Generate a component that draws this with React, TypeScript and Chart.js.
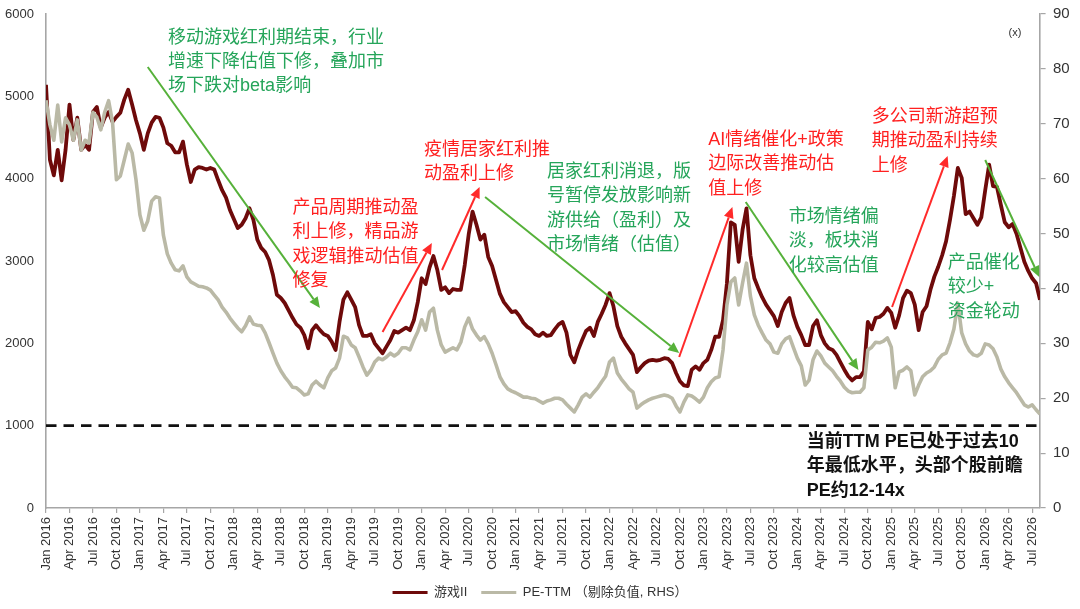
import React, { useEffect, useRef } from 'react';
import { Chart, registerables } from 'chart.js';

Chart.register(...registerables);

// ---------- data ----------
const TICK_LABELS = [
  'Jan 2016', 'Apr 2016', 'Jul 2016', 'Oct 2016',
  'Jan 2017', 'Apr 2017', 'Jul 2017', 'Oct 2017',
  'Jan 2018', 'Apr 2018', 'Jul 2018', 'Oct 2018',
  'Jan 2019', 'Apr 2019', 'Jul 2019', 'Oct 2019',
  'Jan 2020', 'Apr 2020', 'Jul 2020', 'Oct 2020',
  'Jan 2021', 'Apr 2021', 'Jul 2021', 'Oct 2021',
  'Jan 2022', 'Apr 2022', 'Jul 2022', 'Oct 2022',
  'Jan 2023', 'Apr 2023', 'Jul 2023', 'Oct 2023',
  'Jan 2024', 'Apr 2024', 'Jul 2024', 'Oct 2024',
  'Jan 2025', 'Apr 2025', 'Jul 2025', 'Oct 2025',
  'Jan 2026', 'Apr 2026', 'Jul 2026',
];

// one sample every half month, starting Jan 2016
const STEP_MONTHS = 0.5;
const X_MAX_MONTHS = 127;
const TICK_STEP_MONTHS = 3;

// 游戏II index (left axis)
const GAME_II = [
  5140, 4230, 4040, 4350, 3980, 4350, 4900, 4470, 4740, 4350,
  4410, 4350, 4810, 4870, 4620, 4740, 4810, 4690, 4750, 4800,
  4960, 5080, 4900, 4710, 4550, 4350, 4550, 4680, 4750, 4740,
  4620, 4430, 4400, 4320, 4320, 4450, 4170, 3960, 4110, 4140,
  4130, 4110, 4130, 4110, 3980, 3860, 3770, 3620, 3510, 3400,
  3440, 3520, 3640, 3500, 3260, 3160, 3110, 3010, 2830, 2590,
  2550, 2490, 2400, 2310, 2230, 2190, 2100, 1940, 2160, 2220,
  2160, 2110, 2090, 2020, 1920, 2260, 2530, 2620, 2530, 2440,
  2220, 2090, 2090, 2110, 2000, 1940, 1880, 1960, 2040, 2150,
  2130, 2160, 2190, 2160, 2280, 2500, 2790, 2720, 2920, 3060,
  2890, 2650, 2680, 2610, 2660, 2650, 2650, 2950, 3320, 3600,
  3440, 3260, 3320, 3050, 2940, 2770, 2600, 2500, 2440, 2380,
  2390, 2330, 2250, 2200, 2170, 2110, 2090, 2130, 2090, 2100,
  2170, 2230, 2260, 2130, 1860, 1770, 1920, 2040, 2150, 2190,
  2090, 2260, 2360, 2470, 2610, 2450, 2210, 2080, 2000, 1930,
  1860, 1650, 1710, 1760, 1790, 1800, 1790, 1800, 1820, 1810,
  1760, 1640, 1540, 1490, 1480, 1680, 1720, 1680, 1760, 1800,
  1920, 2080, 2080, 2280, 2730, 3470, 3440, 2990, 3380, 3640,
  3070, 2790, 2670, 2560, 2470, 2400, 2330, 2210, 2380, 2490,
  2550, 2340, 2200, 2100, 1980, 1980, 2210, 2280, 2100, 2000,
  1940, 1920, 1860, 1770, 1680, 1600, 1550, 1590, 1590, 1660,
  2260, 2170, 2310, 2320, 2360, 2430, 2370, 2190, 2340, 2550,
  2640, 2610, 2470, 2160, 2380, 2450, 2650, 2810, 2930, 3070,
  3240, 3500, 3790, 4130, 4010, 3570, 3600, 3520, 3440, 3530,
  3860, 4170, 3910, 3900, 3680, 3470, 3410, 3450, 3330, 3160,
  2990, 2880, 2790, 2730, 2530,
];

// PE-TTM (right axis)
const PE_TTM = [
  74.3, 69.8, 67.0, 73.4, 66.7, 71.1, 69.8, 67.0, 70.7, 65.2,
  67.0, 66.5, 72.1, 71.2, 68.9, 72.1, 74.2, 70.3, 59.8, 60.5,
  63.4, 66.3, 64.7, 59.8, 53.4, 50.6, 52.3, 55.9, 56.7, 56.5,
  49.7, 46.3, 44.6, 43.4, 43.2, 44.1, 42.1, 41.2, 40.8, 40.4,
  40.3, 40.1, 39.7, 38.8, 37.9, 36.6, 35.7, 34.6, 33.7, 32.8,
  32.1, 33.2, 34.8, 33.5, 33.3, 33.2, 31.9, 30.1, 28.2, 26.4,
  25.0, 23.9, 23.0, 22.0, 21.9, 21.3, 20.6, 20.8, 22.4, 23.1,
  22.4, 21.9, 23.7, 25.0, 25.5, 27.3, 31.3, 31.0, 29.7, 29.2,
  27.5, 25.7, 24.2, 25.1, 26.6, 27.3, 27.0, 27.5, 28.2, 27.7,
  28.2, 29.2, 29.2, 28.8, 30.6, 32.1, 34.3, 32.4, 35.7, 36.4,
  32.4, 29.7, 28.4, 28.8, 29.2, 28.8, 30.2, 33.0, 34.6, 32.6,
  31.5, 30.6, 31.2, 29.9, 28.2, 26.1, 23.9, 22.6, 21.7, 21.3,
  21.0, 20.6, 20.2, 20.2, 20.0, 19.9, 19.5, 19.1, 19.5, 19.7,
  20.0, 20.0, 19.7, 18.9, 18.2, 17.5, 18.8, 20.2, 20.8, 20.2,
  21.1, 21.9, 23.0, 24.0, 26.6, 27.3, 24.6, 23.5, 22.6, 21.7,
  21.1, 18.2, 18.8, 19.3, 19.7, 20.0, 20.2, 20.4, 20.6, 20.4,
  20.0, 18.6, 17.5, 19.3, 20.6, 20.4, 19.9, 19.3, 20.2, 21.9,
  23.0, 23.7, 23.9, 28.8, 37.0, 41.2, 41.9, 37.0, 41.0, 44.6,
  38.6, 35.2, 33.3, 31.9, 30.6, 29.9, 28.4, 28.2, 29.9, 30.8,
  31.2, 29.2, 27.3, 25.9, 22.4, 23.3, 27.0, 28.6, 27.7, 26.4,
  25.7, 25.0, 24.0, 23.1, 22.0, 21.3, 21.0, 21.1, 21.1, 21.9,
  28.8, 29.3, 30.2, 30.1, 30.4, 31.0, 29.3, 21.9, 24.8, 25.1,
  25.7, 25.0, 20.6, 22.4, 23.9, 24.6, 25.0, 25.7, 27.1, 27.9,
  28.2, 30.1, 32.6, 37.3, 31.9, 29.9, 28.6, 27.9, 27.7, 28.2,
  29.9, 29.7, 29.0, 27.5, 25.3, 23.9, 22.8, 21.9, 21.0, 19.9,
  18.8, 18.4, 18.8, 17.9, 17.1,
];

// dashed reference level (left axis 1000 == 15x on the right axis)
const REF_LEVEL = 1000;

const SERIES_NAMES = ['游戏II', 'PE-TTM （剔除负值, RHS）'];

// ---------- styles ----------
const FONT = '"Liberation Sans", "Noto Sans CJK SC", Arial, sans-serif';
const RED_LINE = '#6e0a0a';
const GRAY_LINE = '#bab9a6';
const AXIS_COLOR = '#a6a6a6';
const TEXT_COLOR = '#333333';
const NOTE_GREEN = '#25a55a';
const NOTE_RED = '#ff2020';
const NOTE_BLACK = '#111111';
const ARROW_GREEN = '#56b13a';
const ARROW_RED = '#ff2a2a';

// annotations: anchor = (month, left-axis value) of the first line's left/middle
const NOTES = [
  { x: 15.6, y: 5710, color: NOTE_GREEN, bold: false, lines: ['移动游戏红利期结束，行业', '增速下降估值下修，叠加市', '场下跌对beta影响'] },
  { x: 31.5, y: 3644, color: NOTE_RED, bold: false, lines: ['产品周期推动盈', '利上修，精品游', '戏逻辑推动估值', '修复'] },
  { x: 48.3, y: 4348, color: NOTE_RED, bold: false, lines: ['疫情居家红利推', '动盈利上修'] },
  { x: 64.0, y: 4081, color: NOTE_GREEN, bold: false, lines: ['居家红利消退，版', '号暂停发放影响新', '游供给（盈利）及', '市场情绪（估值）'] },
  { x: 84.6, y: 4470, color: NOTE_RED, bold: false, lines: ['AI情绪催化+政策', '边际改善推动估', '值上修'] },
  { x: 94.9, y: 3534, color: NOTE_GREEN, bold: false, lines: ['市场情绪偏', '淡，板块消', '化较高估值'] },
  { x: 105.5, y: 4749, color: NOTE_RED, bold: false, lines: ['多公司新游超预', '期推动盈利持续', '上修'] },
  { x: 115.2, y: 2976, color: NOTE_GREEN, bold: false, lines: ['产品催化', '较少+', '资金轮动'] },
  { x: 97.2, y: 802, color: NOTE_BLACK, bold: true, lines: ['当前TTM PE已处于过去10', '年最低水平，头部个股前瞻', 'PE约12-14x'] },
];

const ARROWS = [
  { from: [13.0, 5356], to: [35.0, 2429], color: ARROW_GREEN },
  { from: [43.0, 2138], to: [49.3, 3219], color: ARROW_RED },
  { from: [50.6, 2891], to: [55.4, 3899], color: ARROW_RED },
  { from: [56.1, 3777], to: [80.9, 1883], color: ARROW_GREEN },
  { from: [80.9, 1834], to: [87.7, 3656], color: ARROW_RED },
  { from: [89.4, 3717], to: [103.8, 1676], color: ARROW_GREEN },
  { from: [108.1, 2441], to: [115.2, 4275], color: ARROW_RED },
  { from: [120.0, 4227], to: [126.9, 2806], color: ARROW_GREEN },
];

const UNIT_LABEL = '(x)';
const UNIT_LABEL_PE = 86.5;

function drawArrow(ctx: CanvasRenderingContext2D, x0: number, y0: number, x1: number, y1: number, color: string) {
  const ang = Math.atan2(y1 - y0, x1 - x0);
  const headLen = 11;
  const headW = 5;
  const bx = x1 - headLen * Math.cos(ang);
  const by = y1 - headLen * Math.sin(ang);
  ctx.strokeStyle = color;
  ctx.fillStyle = color;
  ctx.lineWidth = 2;
  ctx.setLineDash([]);
  ctx.beginPath();
  ctx.moveTo(x0, y0);
  ctx.lineTo(bx, by);
  ctx.stroke();
  ctx.beginPath();
  ctx.moveTo(x1, y1);
  ctx.lineTo(bx + headW * Math.sin(ang), by - headW * Math.cos(ang));
  ctx.lineTo(bx - headW * Math.sin(ang), by + headW * Math.cos(ang));
  ctx.closePath();
  ctx.fill();
}

const notesPlugin = {
  id: 'notes',
  afterDatasetsDraw(chart: any) {
    const { ctx, scales, chartArea } = chart;
    const xs = scales.x;
    const ys = scales.y;
    const y1s = scales.y1;
    ctx.save();
    ARROWS.forEach((a) => {
      drawArrow(
        ctx,
        xs.getPixelForValue(a.from[0]), ys.getPixelForValue(a.from[1]),
        xs.getPixelForValue(a.to[0]), ys.getPixelForValue(a.to[1]),
        a.color,
      );
    });
    ctx.textBaseline = 'middle';
    ctx.textAlign = 'left';
    NOTES.forEach((n) => {
      ctx.font = `${n.bold ? 'bold ' : ''}18px ${FONT}`;
      ctx.fillStyle = n.color;
      const px = xs.getPixelForValue(n.x);
      const py = ys.getPixelForValue(n.y);
      n.lines.forEach((line, i) => ctx.fillText(line, px, py + i * 24.3));
    });
    ctx.font = `11px ${FONT}`;
    ctx.fillStyle = TEXT_COLOR;
    ctx.textAlign = 'center';
    ctx.fillText(UNIT_LABEL, chartArea.right - 25, y1s.getPixelForValue(UNIT_LABEL_PE));
    ctx.restore();
  },
};

export default function App() {
  const ref = useRef<HTMLCanvasElement>(null);

  useEffect(() => {
    if (!ref.current) return;
    const gameData = GAME_II.map((v, i) => ({ x: i * STEP_MONTHS, y: v }));
    const peData = PE_TTM.map((v, i) => ({ x: i * STEP_MONTHS, y: v }));
    const refData = [
      { x: 0, y: REF_LEVEL },
      { x: X_MAX_MONTHS, y: REF_LEVEL },
    ];

    const chart = new Chart(ref.current, {
      type: 'line',
      data: {
        datasets: [
          {
            label: SERIES_NAMES[0],
            data: gameData,
            yAxisID: 'y',
            borderColor: RED_LINE,
            backgroundColor: RED_LINE,
            borderWidth: 3.8,
            pointRadius: 0,
            tension: 0,
            borderJoinStyle: 'round',
            order: 2,
          },
          {
            label: SERIES_NAMES[1],
            data: peData,
            yAxisID: 'y1',
            borderColor: GRAY_LINE,
            backgroundColor: GRAY_LINE,
            borderWidth: 3.6,
            pointRadius: 0,
            tension: 0,
            borderJoinStyle: 'round',
            order: 1,
          },
          {
            label: 'ref',
            data: refData,
            yAxisID: 'y',
            borderColor: '#111111',
            backgroundColor: '#111111',
            borderWidth: 2.6,
            borderDash: [10.5, 7],
            pointRadius: 0,
            order: 0,
          },
        ],
      },
      options: {
        responsive: false,
        animation: false,
        devicePixelRatio: 1,
        layout: { padding: { top: 14, left: 0, right: 0, bottom: 0 } },
        plugins: {
          tooltip: { enabled: false },
          legend: {
            position: 'bottom',
            labels: {
              boxWidth: 35,
              boxHeight: 3,
              padding: 14,
              color: TEXT_COLOR,
              font: { family: FONT, size: 13 },
              generateLabels: (c: any) =>
                Chart.defaults.plugins.legend.labels
                  .generateLabels(c)
                  .filter((l: any) => l.datasetIndex < 2)
                  .sort((a: any, b: any) => a.datasetIndex - b.datasetIndex)
                  .map((l: any) => ({ ...l, lineWidth: 0 })),
            },
          },
        },
        scales: {
          x: {
            type: 'linear',
            min: 0,
            max: X_MAX_MONTHS,
            ticks: {
              stepSize: TICK_STEP_MONTHS,
              includeBounds: false,
              autoSkip: false,
              minRotation: 90,
              maxRotation: 90,
              padding: 4,
              color: TEXT_COLOR,
              font: { family: FONT, size: 13 },
              callback: (v: any) => {
                const n = Number(v);
                return n % TICK_STEP_MONTHS === 0 ? TICK_LABELS[Math.round(n / TICK_STEP_MONTHS)] ?? '' : '';
              },
            },
            grid: { drawOnChartArea: false, drawTicks: true, tickLength: 5, color: AXIS_COLOR, lineWidth: 1.2 },
            border: { display: true, color: AXIS_COLOR, width: 1.6 },
            afterFit: (s: any) => { s.height = 64; },
          },
          y: {
            position: 'left',
            min: 0,
            max: 6000,
            ticks: {
              stepSize: 1000,
              padding: 0,
              color: TEXT_COLOR,
              font: { family: FONT, size: 13 },
              callback: (v: any) => String(v),
            },
            grid: { drawOnChartArea: false, drawTicks: true, tickLength: 12, tickColor: 'rgba(0,0,0,0)' },
            border: { display: true, color: AXIS_COLOR, width: 1.6 },
            afterFit: (s: any) => { s.width = 46; },
          },
          y1: {
            position: 'right',
            min: 0,
            max: 90,
            ticks: {
              stepSize: 10,
              padding: 0,
              color: TEXT_COLOR,
              font: { family: FONT, size: 15 },
              callback: (v: any) => String(v),
            },
            grid: {
              drawOnChartArea: false,
              drawTicks: true,
              tickLength: 13,
              tickColor: AXIS_COLOR,
              tickBorderDash: [5, 40],
              lineWidth: 1.2,
            },
            border: { display: true, color: AXIS_COLOR, width: 1.6 },
            afterFit: (s: any) => { s.width = 40; },
          },
        },
      },
      plugins: [notesPlugin],
    } as any);

    return () => chart.destroy();
  }, []);

  return (
    <div style={{ position: 'fixed', left: 0, top: 0, width: 1080, height: 609, background: '#ffffff' }}>
      <canvas ref={ref} width={1080} height={609} style={{ display: 'block', width: 1080, height: 609 }} />
    </div>
  );
}
